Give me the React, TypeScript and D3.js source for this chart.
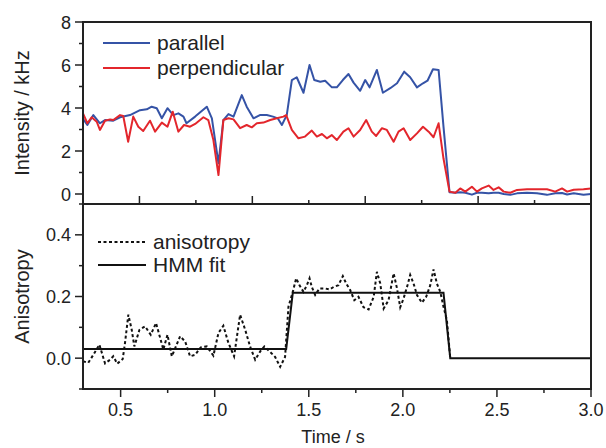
import React, { useRef, useEffect } from "react";
import * as d3 from "d3";

// intensity traces, [time s, kHz]
const parallel: [number, number][] = [
  [0.3, 3.5], [0.323, 3.21], [0.355, 3.67], [0.39, 3.29], [0.417, 3.44], [0.461, 3.41], [0.497, 3.57],
  [0.55, 3.67], [0.603, 3.9], [0.639, 3.94], [0.665, 4.06], [0.692, 3.99], [0.719, 3.52], [0.749, 3.99],
  [0.78, 3.67], [0.807, 3.75], [0.834, 3.6], [0.85, 3.29], [0.896, 3.6], [0.958, 4.06], [0.985, 3.52],
  [1.02, 1.43], [1.046, 3.44], [1.073, 3.72], [1.1, 3.6], [1.144, 4.6], [1.17, 4.06], [1.206, 3.52],
  [1.24, 3.67], [1.277, 3.67], [1.31, 3.6], [1.335, 3.52], [1.357, 3.21], [1.383, 3.67], [1.41, 5.3],
  [1.436, 5.43], [1.472, 4.71], [1.504, 6.0], [1.529, 5.3], [1.561, 5.22], [1.587, 5.27], [1.623, 4.96],
  [1.649, 4.96], [1.681, 5.3], [1.711, 5.58], [1.738, 5.18], [1.773, 4.8], [1.8, 5.3], [1.823, 4.96],
  [1.862, 5.77], [1.894, 4.71], [1.933, 4.92], [1.969, 5.15], [2.007, 5.69], [2.039, 5.43], [2.075, 4.96],
  [2.107, 5.15], [2.131, 5.27], [2.16, 5.8], [2.19, 5.77], [2.216, 3.13], [2.248, 0.08], [2.279, 0.06],
  [2.305, 0.08], [2.332, 0.06], [2.367, -0.03], [2.394, 0.06], [2.42, 0.06], [2.456, 0.03], [2.482, 0.06],
  [2.509, 0.06], [2.536, 0.0], [2.571, -0.04], [2.607, 0.03], [2.66, 0.06], [2.713, 0.03], [2.766, -0.04],
  [2.81, 0.03], [2.846, 0.05], [2.873, -0.02], [2.908, 0.03], [2.96, -0.03], [3.0, 0.0],
];

const perpendicular: [number, number][] = [
  [0.3, 3.75], [0.323, 3.29], [0.346, 3.57], [0.373, 3.36], [0.39, 2.98], [0.417, 3.41], [0.444, 3.47],
  [0.461, 3.44], [0.497, 3.67], [0.514, 3.63], [0.54, 2.43], [0.567, 3.6], [0.594, 3.13], [0.62, 2.93],
  [0.656, 3.41], [0.683, 2.9], [0.719, 3.32], [0.749, 3.13], [0.777, 3.83], [0.807, 2.9], [0.837, 3.21],
  [0.869, 3.13], [0.896, 3.26], [0.94, 3.57], [0.966, 3.44], [0.993, 2.51], [1.02, 0.88], [1.046, 3.44],
  [1.073, 3.52], [1.1, 3.47], [1.135, 3.06], [1.17, 3.21], [1.197, 3.1], [1.224, 3.29], [1.259, 3.32],
  [1.295, 3.44], [1.33, 3.52], [1.365, 3.6], [1.38, 3.67], [1.41, 2.98], [1.445, 2.59], [1.48, 2.67],
  [1.516, 2.95], [1.543, 2.67], [1.57, 2.79], [1.596, 2.59], [1.622, 2.74], [1.649, 2.51], [1.684, 2.9],
  [1.711, 3.06], [1.738, 2.67], [1.773, 2.98], [1.805, 3.44], [1.835, 2.9], [1.858, 2.7], [1.889, 3.06],
  [1.915, 2.98], [1.951, 2.43], [1.977, 2.9], [2.004, 3.06], [2.039, 2.51], [2.075, 2.82], [2.107, 3.13],
  [2.137, 2.9], [2.163, 2.64], [2.19, 3.29], [2.216, 1.65], [2.248, 0.11], [2.279, 0.06], [2.305, 0.26],
  [2.332, 0.11], [2.367, 0.34], [2.394, 0.11], [2.42, 0.26], [2.456, 0.39], [2.482, 0.19], [2.509, 0.31],
  [2.536, 0.11], [2.571, 0.06], [2.607, 0.19], [2.66, 0.22], [2.713, 0.22], [2.766, 0.22], [2.81, 0.11],
  [2.846, 0.26], [2.873, 0.11], [2.908, 0.2], [2.96, 0.22], [3.0, 0.26],
];

// anisotropy trace and its HMM fit
const anisotropy: [number, number][] = [
  [0.3, -0.01], [0.328, -0.015], [0.355, 0.011], [0.387, 0.044], [0.417, -0.017], [0.444, -0.005],
  [0.461, 0.006], [0.482, -0.018], [0.511, -0.003], [0.523, 0.048], [0.541, 0.141], [0.559, 0.092],
  [0.573, 0.038], [0.6, 0.092], [0.63, 0.103], [0.66, 0.076], [0.688, 0.114], [0.71, 0.066], [0.727, 0.028],
  [0.749, 0.076], [0.772, 0.006], [0.798, 0.044], [0.816, 0.071], [0.843, 0.054], [0.869, 0.006],
  [0.896, 0.011], [0.926, 0.035], [0.958, 0.038], [0.993, 0.008], [1.02, 0.082], [1.046, 0.105],
  [1.073, 0.049], [1.103, 0.006], [1.135, 0.141], [1.162, 0.092], [1.188, 0.038], [1.215, -0.005],
  [1.242, 0.022], [1.264, 0.038], [1.295, 0.02], [1.321, 0.004], [1.348, -0.028], [1.374, 0.004],
  [1.392, 0.167], [1.415, 0.215], [1.433, 0.259], [1.45, 0.237], [1.472, 0.215], [1.49, 0.237],
  [1.504, 0.259], [1.516, 0.231], [1.534, 0.205], [1.557, 0.226], [1.587, 0.226], [1.61, 0.223],
  [1.632, 0.231], [1.658, 0.237], [1.681, 0.266], [1.699, 0.242], [1.72, 0.221], [1.742, 0.188],
  [1.764, 0.199], [1.791, 0.165], [1.818, 0.158], [1.845, 0.199], [1.862, 0.28], [1.88, 0.242],
  [1.898, 0.161], [1.924, 0.188], [1.951, 0.275], [1.969, 0.226], [1.986, 0.165], [2.004, 0.194],
  [2.025, 0.237], [2.039, 0.27], [2.057, 0.242], [2.075, 0.205], [2.101, 0.18], [2.124, 0.199],
  [2.146, 0.237], [2.163, 0.288], [2.181, 0.242], [2.199, 0.215], [2.216, 0.167], [2.234, 0.123],
  [2.252, 0.0],
];

const hmmFit: [number, number][] = [
  [0.3, 0.03], [1.38, 0.03], [1.415, 0.212], [2.216, 0.212], [2.252, 0.0], [3.0, 0.0],
];

const xLabels = [0.5, 1.0, 1.5, 2.0, 2.5, 3.0];
const intensityLabels = [0, 2, 4, 6, 8];
const anisoLabels = [0.0, 0.2, 0.4];

const FONT = "Liberation Sans, Arial, sans-serif";
const AXIS = "#222";

const Chart = ({ width, height }: { width: number; height: number }) => {
  const ref = useRef<SVGSVGElement>(null);

  useEffect(() => {
    const svg = d3.select(ref.current);
    svg.selectAll("*").remove();

    const left = 83, right = 591;
    const topY0 = 22, topY1 = 204, botY1 = 389;

    const x = d3.scaleLinear().domain([0.3, 3.0]).range([left, right]);
    const yTop = d3.scaleLinear().domain([-0.5, 8]).range([topY1 + 0.75, topY0]);
    const yBot = d3.scaleLinear().domain([-0.1, 0.5]).range([botY1, topY1]);

    const defs = svg.append("defs");
    defs.append("clipPath").attr("id", "clipTop")
      .append("rect").attr("x", left).attr("y", topY0).attr("width", right - left).attr("height", topY1 - topY0);
    defs.append("clipPath").attr("id", "clipBot")
      .append("rect").attr("x", left).attr("y", topY1).attr("width", right - left).attr("height", botY1 - topY1);

    // data lines
    const lineTop = d3.line<[number, number]>().x(d => x(d[0])).y(d => yTop(d[1]));
    const lineBot = d3.line<[number, number]>().x(d => x(d[0])).y(d => yBot(d[1]));

    const gTop = svg.append("g").attr("clip-path", "url(#clipTop)");
    gTop.append("path").datum(parallel).attr("d", lineTop)
      .attr("fill", "none").attr("stroke", "#3553a6").attr("stroke-width", 2).attr("stroke-linejoin", "round");
    gTop.append("path").datum(perpendicular).attr("d", lineTop)
      .attr("fill", "none").attr("stroke", "#e3262c").attr("stroke-width", 2).attr("stroke-linejoin", "round");

    const gBot = svg.append("g").attr("clip-path", "url(#clipBot)");
    gBot.append("path").datum(anisotropy).attr("d", lineBot)
      .attr("fill", "none").attr("stroke", "#111").attr("stroke-width", 2).attr("stroke-dasharray", "3,2.5");
    gBot.append("path").datum(hmmFit).attr("d", lineBot)
      .attr("fill", "none").attr("stroke", "#111").attr("stroke-width", 2);

    const frame = svg.append("g").attr("fill", "none").attr("stroke", AXIS).attr("stroke-width", 2);
    frame.append("rect").attr("x", left).attr("y", topY0).attr("width", right - left).attr("height", botY1 - topY0);
    frame.append("line").attr("x1", left).attr("x2", right).attr("y1", topY1).attr("y2", topY1);

    const ticks = svg.append("g").attr("stroke", AXIS).attr("stroke-width", 1.5);
    // top panel left ticks
    d3.range(0, 9, 1).forEach(v => {
      const len = v % 2 === 0 ? 8 : 4;
      ticks.append("line").attr("x1", left - len).attr("x2", left).attr("y1", yTop(v)).attr("y2", yTop(v));
    });
    // bottom panel left ticks
    d3.range(-1, 6, 1).map(i => i / 10).forEach(v => {
      const len = Math.round(v * 10) % 2 === 0 ? 8 : 4;
      ticks.append("line").attr("x1", left - len).attr("x2", left).attr("y1", yBot(v)).attr("y2", yBot(v));
    });
    // ticks above the shared middle line
    [0.6, 0.9, 1.2, 1.5, 1.8, 2.1, 2.4, 2.7].forEach((v, i) => {
      const len = i % 2 === 0 ? 8 : 4;
      ticks.append("line").attr("x1", x(v)).attr("x2", x(v)).attr("y1", topY1 - len).attr("y2", topY1);
    });
    // bottom x ticks
    d3.range(2, 13, 1).map(i => i / 4).forEach(v => {
      const len = Math.round(v * 4) % 2 === 0 ? 8 : 4;
      ticks.append("line").attr("x1", x(v)).attr("x2", x(v)).attr("y1", botY1).attr("y2", botY1 + len);
    });

    const txt = svg.append("g").attr("font-family", FONT).attr("fill", "#222");
    intensityLabels.forEach(v => {
      txt.append("text").attr("x", 71).attr("y", yTop(v) + 6.5).attr("text-anchor", "end")
        .attr("font-size", 18).text(d3.format("d")(v));
    });
    anisoLabels.forEach(v => {
      txt.append("text").attr("x", 71).attr("y", yBot(v) + 6.5).attr("text-anchor", "end")
        .attr("font-size", 18).text(d3.format(".1f")(v));
    });
    xLabels.forEach(v => {
      txt.append("text").attr("x", x(v)).attr("y", 416).attr("text-anchor", "middle")
        .attr("font-size", 18).text(d3.format(".1f")(v));
    });

    txt.append("text").attr("x", 333).attr("y", 443).attr("text-anchor", "middle")
      .attr("font-size", 18).text("Time / s");
    txt.append("text").attr("transform", `translate(29,${(topY0 + topY1) / 2}) rotate(-90)`)
      .attr("text-anchor", "middle").attr("font-size", 20).text("Intensity / kHz");
    txt.append("text").attr("transform", `translate(29,${(topY1 + botY1) / 2}) rotate(-90)`)
      .attr("text-anchor", "middle").attr("font-size", 20).text("Anisotropy");

    // legends
    const legTop = [
      { label: "parallel", color: "#3553a6", y: 43 },
      { label: "perpendicular", color: "#e3262c", y: 68 },
    ];
    legTop.forEach(d => {
      svg.append("line").attr("x1", 103).attr("x2", 150).attr("y1", d.y).attr("y2", d.y)
        .attr("stroke", d.color).attr("stroke-width", 2);
      txt.append("text").attr("x", 157).attr("y", d.y + 7).attr("font-size", 21).text(d.label);
    });
    const legBot = [
      { label: "anisotropy", dash: "3,2.5", y: 242 },
      { label: "HMM fit", dash: null, y: 265 },
    ];
    legBot.forEach(d => {
      svg.append("line").attr("x1", 98).attr("x2", 146).attr("y1", d.y).attr("y2", d.y)
        .attr("stroke", "#111").attr("stroke-width", 2).attr("stroke-dasharray", d.dash);
      txt.append("text").attr("x", 153).attr("y", d.y + 7).attr("font-size", 21).text(d.label);
    });
  }, [width, height]);

  return <svg ref={ref} width={width} height={height} style={{ display: "block" }} />;
};

export default function App() {
  return (
    <div style={{ position: "absolute", left: 0, top: 0, background: "#fff" }}>
      <Chart width={606} height={448} />
    </div>
  );
}
